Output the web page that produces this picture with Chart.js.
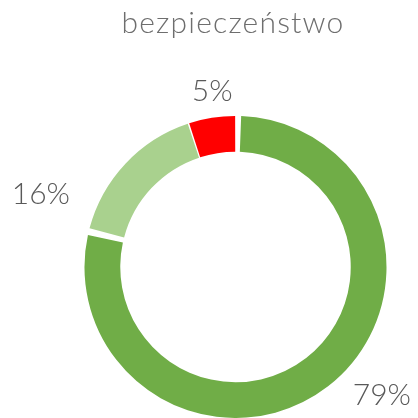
<!DOCTYPE html>
<html>
<head>
<meta charset="utf-8">
<script src="https://cdn.jsdelivr.net/npm/chart.js@4/dist/chart.umd.min.js"></script>
<style>
  html, body { margin: 0; padding: 0; background: #fff; }
  #wrap { width: 418px; height: 418px; }
</style>
</head>
<body>
<div id="wrap"><canvas id="chart" width="418" height="418"></canvas></div>
<script>
// dane wykresu
var tytul = 'bezpieczeństwo'
var kategorie = ['tak', 'częściowo', 'nie']
var wartosci = [79, 16, 5]
var kolory = ['#70AD47', '#A9D18E', '#FF0000']
var etykiety = ['79%', '16%', '5%']

// przesuniecia etykiet od zewnetrznej krawedzi luku
var przesuniecia = [[55, 11], [-86, 29], [0, -29]]

var etykietyPlugin = {
  id: 'etykiety',
  afterDatasetsDraw: function (chart) {
    var ctx = chart.ctx
    var meta = chart.getDatasetMeta(0)
    ctx.save()
    ctx.font = '300 30px Lato'
    ctx.fillStyle = '#595959'
    ctx.textAlign = 'center'
    ctx.textBaseline = 'middle'
    meta.data.forEach(function (arc, i) {
      var p = arc.getProps(['x', 'y', 'startAngle', 'endAngle', 'outerRadius'], true)
      var kat = (p.startAngle + p.endAngle) / 2
      var x = p.x + Math.cos(kat) * p.outerRadius + przesuniecia[i][0]
      var y = p.y + Math.sin(kat) * p.outerRadius + przesuniecia[i][1]
      ctx.fillText(etykiety[i], x, y)
    })
    // tytul z lekko rozstrzelonymi literami
    ctx.font = '300 30px Lato'
    ctx.fillStyle = '#6e6e6e'
    ctx.textBaseline = 'alphabetic'
    ctx.letterSpacing = '1.2px'
    ctx.fillText(tytul, 233, 33)
    ctx.restore()
  }
}

var chart = new Chart(document.getElementById('chart'), {
  type: 'doughnut',
  data: {
    labels: kategorie,
    datasets: [{
      data: wartosci,
      backgroundColor: kolory,
      borderWidth: 0,
      spacing: 4
    }]
  },
  options: {
    responsive: false,
    animation: false,
    cutout: '76%',
    layout: {
      padding: { left: 84.5, right: 31.5, top: 116, bottom: 0 }
    },
    plugins: {
      legend: { display: false },
      tooltip: { enabled: false }
    }
  },
  plugins: [etykietyPlugin]
})
</script>
</body>
</html>
